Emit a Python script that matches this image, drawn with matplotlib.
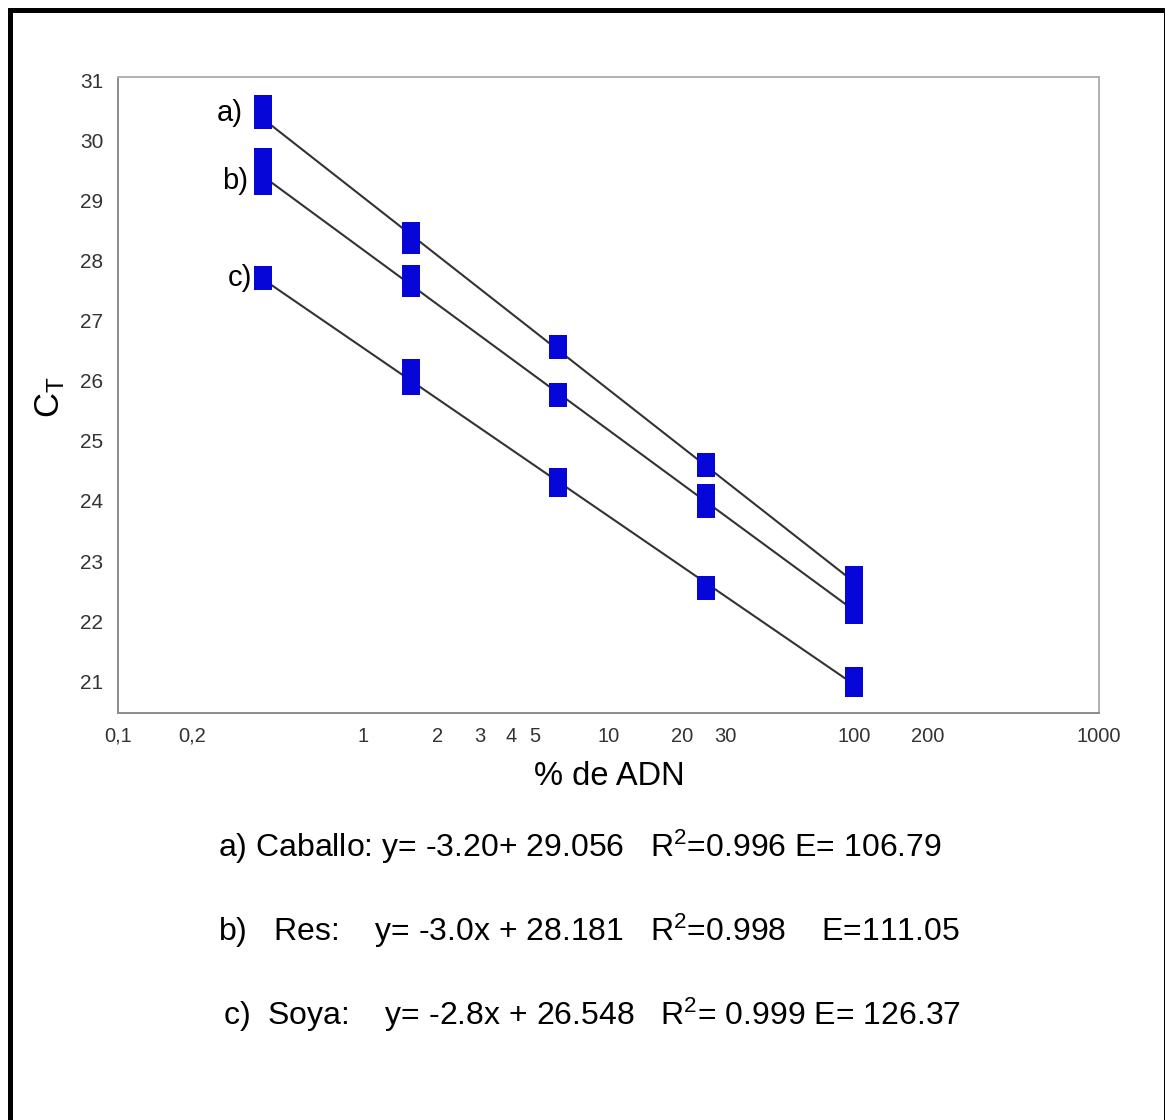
import matplotlib
matplotlib.use('Agg')
import matplotlib.pyplot as plt
import numpy as np
from matplotlib.patches import Rectangle
from matplotlib.ticker import NullLocator

plt.rcParams['font.family'] = ['Liberation Sans', 'DejaVu Sans']
plt.rcParams['mathtext.fontset'] = 'custom'
plt.rcParams['mathtext.rm'] = 'Liberation Sans'
plt.rcParams['mathtext.it'] = 'Liberation Sans:italic'

# % de ADN (diluciones 1:4)
dna_pct = [0.390625, 1.5625, 6.25, 25, 100]

# Ct, replicas por cada dilucion
ct_caballo = [[30.56, 30.40], [28.44, 28.32], [26.56], [24.60], [22.72, 22.52]]
ct_res = [[29.67, 29.29], [27.73, 27.60], [25.76], [24.08, 23.91], [22.35, 22.15]]
ct_soya = [[27.72], [26.16, 25.96], [24.35, 24.27], [22.55], [21.04, 20.94]]

series_tags = ['a)', 'b)', 'c)']
slopes = [-3.20, -3.0, -2.8]
intercepts = [29.056, 28.181, 26.548]

xtick_vals = [0.1, 0.2, 1, 2, 3, 4, 5, 10, 20, 30, 100, 200, 1000]
xtick_labels = ['0,1', '0,2', '1', '2', '3', '4', '5', '10', '20', '30', '100', '200', '1000']
ytick_vals = list(range(21, 32))

equations = [
    'a) Caballo: y= -3.20+ 29.056   R$^{2}$=0.996 E= 106.79',
    'b)   Res:    y= -3.0x + 28.181   R$^{2}$=0.998    E=111.05',
    'c)  Soya:    y= -2.8x + 26.548   R$^{2}$= 0.999 E= 126.37',
]

W, H = 1165, 1120
fig = plt.figure(figsize=(W / 100, H / 100), dpi=100)
ax = fig.add_axes([118 / W, 1 - 713 / H, 981 / W, 636 / H])

# rectangulo un poco mas alto que ancho
box = [(-0.37, -0.5), (0.37, -0.5), (0.37, 0.5), (-0.37, 0.5), (-0.37, -0.5)]
blue = '#0606d8'

all_ct = [ct_caballo, ct_res, ct_soya]
tag_offsets = [(-20, -1), (-15, -9), (-11, 0)]
x_line = np.array([dna_pct[0], dna_pct[-1]])

for cts, m, b, tag, off in zip(all_ct, slopes, intercepts, series_tags, tag_offsets):
    ax.plot(x_line, m * np.log10(x_line) + b, color='#333333', lw=1.5, zorder=2)
    xs = [x for x, reps in zip(dna_pct, cts) for _ in reps]
    ys = [v for reps in cts for v in reps]
    ax.plot(xs, ys, linestyle='none', marker=box, markersize=16.8,
            color=blue, markeredgewidth=0, zorder=3)
    ax.annotate(tag, xy=(dna_pct[0], np.mean(cts[0])), xytext=off,
                textcoords='offset pixels', ha='right', va='center', fontsize=21)

ax.set_xscale('log')
ax.set_xlim(0.1, 1000)
ax.set_ylim(20.47, 31.06)
ax.set_xticks(xtick_vals)
ax.set_xticklabels(xtick_labels, family=['Liberation Sans Narrow', 'Liberation Sans'],
                   fontsize=14.5, color='#333333')
ax.xaxis.set_minor_locator(NullLocator())
ax.set_yticks(ytick_vals)
ax.set_yticklabels([str(v) for v in ytick_vals], fontsize=15, color='#333333')
ax.tick_params(axis='x', length=0, pad=10)
ax.tick_params(axis='y', length=0, pad=10.5)

for side in ['left', 'bottom', 'top', 'right']:
    ax.spines[side].set_color('#8c8c8c')
    ax.spines[side].set_linewidth(1.4)
ax.spines['top'].set_color('#b0b0b0')
ax.spines['right'].set_color('#b0b0b0')

fig.text(609 / W, 1 - 785 / H, '% de ADN', ha='center', va='baseline', fontsize=23.5)
fig.text(50 / W, 1 - 397 / H, r'C$_\mathregular{T}$', rotation=90,
         ha='center', va='center', fontsize=25)

eq_x = [218, 218, 223]
eq_base = [857, 941, 1025]
for txt, xp, yp in zip(equations, eq_x, eq_base):
    fig.text(xp / W, 1 - yp / H, txt, ha='left', va='baseline', fontsize=23)

# marco negro exterior
fig.add_artist(Rectangle((9.5 / W, -0.02), (1165.5 - 9.5) / W, 1 - 9.5 / H + 0.02,
                         transform=fig.transFigure, fill=False, ec='black', lw=3.6,
                         clip_on=False))

fig.savefig('out.png', dpi=100)
